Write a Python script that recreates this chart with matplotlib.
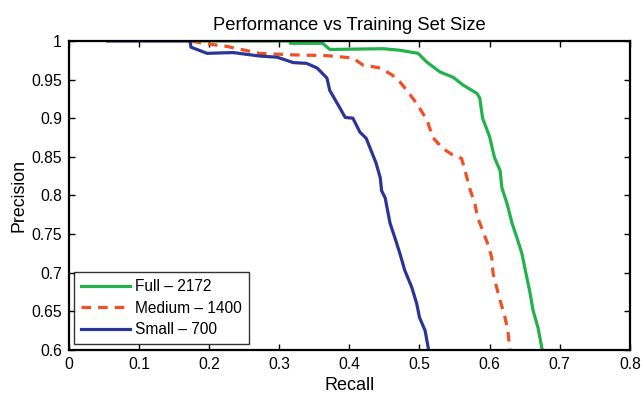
import matplotlib
matplotlib.use("Agg")
import matplotlib.pyplot as plt
from matplotlib.ticker import FixedLocator, FuncFormatter

plt.rcParams['font.family'] = ['Liberation Sans', 'DejaVu Sans']

# Full - 2172
full_recall = [0.17, 0.315, 0.316, 0.362, 0.372, 0.448, 0.472, 0.498, 0.51, 0.529, 0.548, 0.562,
               0.582, 0.586, 0.59, 0.600, 0.607, 0.615, 0.6175, 0.625, 0.632, 0.639, 0.646,
               0.653, 0.657, 0.662, 0.669, 0.675]
full_precision = [1.0, 1.0, 0.997, 0.997, 0.989, 0.990, 0.988, 0.984, 0.973, 0.960, 0.953, 0.943,
                  0.932, 0.926, 0.900, 0.876, 0.849, 0.832, 0.810, 0.789, 0.764, 0.745, 0.725,
                  0.694, 0.677, 0.651, 0.629, 0.600]

# Medium - 1400
med_recall = [0.175, 0.191, 0.225, 0.272, 0.32, 0.368, 0.405, 0.419, 0.444, 0.461, 0.472, 0.482,
              0.496, 0.511, 0.519, 0.533, 0.548, 0.560, 0.565, 0.572, 0.579, 0.583, 0.59,
              0.597, 0.603, 0.605, 0.610, 0.615, 0.622, 0.626, 0.629]
med_precision = [1.0, 0.997, 0.993, 0.984, 0.982, 0.981, 0.978, 0.969, 0.965, 0.956, 0.947, 0.936,
                 0.919, 0.897, 0.875, 0.861, 0.852, 0.848, 0.832, 0.808, 0.789, 0.771, 0.755,
                 0.738, 0.720, 0.699, 0.681, 0.664, 0.642, 0.625, 0.600]

# Small - 700
small_recall = [0.055, 0.173, 0.174, 0.197, 0.234, 0.272, 0.297, 0.32, 0.339, 0.354, 0.368, 0.372,
                0.386, 0.394, 0.405, 0.415, 0.424, 0.431, 0.438, 0.444, 0.446, 0.451, 0.458,
                0.465, 0.472, 0.479, 0.489, 0.496, 0.500, 0.508, 0.513]
small_precision = [1.0, 1.0, 0.992, 0.984, 0.985, 0.9805, 0.979, 0.972, 0.971, 0.965, 0.952, 0.936,
                   0.914, 0.901, 0.900, 0.882, 0.874, 0.858, 0.842, 0.823, 0.806, 0.797, 0.764,
                   0.745, 0.725, 0.703, 0.681, 0.660, 0.642, 0.625, 0.600]

labels = ["Full \u2013 2172", "Medium \u2013 1400", "Small \u2013 700"]
x_ticks = [0, 0.1, 0.2, 0.3, 0.4, 0.5, 0.6, 0.7, 0.8]
y_ticks = [0.6, 0.65, 0.7, 0.75, 0.8, 0.85, 0.9, 0.95, 1.0]

fig = plt.figure(figsize=(6.44, 3.94), dpi=100)
ax = fig.add_axes([0.107, 0.112, 0.871, 0.784])

ax.plot(full_recall, full_precision, color='#22b24c', lw=2.3, label=labels[0])
ax.plot(med_recall, med_precision, color='#f05023', lw=2.3, ls=(0, (3, 2.2)), label=labels[1])
ax.plot(small_recall, small_precision, color='#2b3596', lw=2.3, label=labels[2])

ax.set_xlim(0, 0.8)
ax.set_ylim(0.6, 1.0)
ax.xaxis.set_major_locator(FixedLocator(x_ticks))
ax.yaxis.set_major_locator(FixedLocator(y_ticks))
fmt = FuncFormatter(lambda v, p: ('%g' % round(v, 3)))
ax.xaxis.set_major_formatter(fmt)
ax.yaxis.set_major_formatter(fmt)
ax.tick_params(direction='in', length=4, width=1, top=True, right=True, labelsize=11.3,
               colors='black', pad=5)
for s in ax.spines.values():
    s.set_linewidth(1.6)

ax.set_xlabel('Recall', fontsize=13, labelpad=4)
ax.set_ylabel('Precision', fontsize=12.8, labelpad=3)
ax.set_title('Performance vs Training Set Size', fontsize=13.2, pad=8)

leg = ax.legend(loc='lower left', fontsize=11.2, frameon=True, fancybox=False,
                edgecolor='black', borderaxespad=0.35, handlelength=3.1, labelspacing=0.42,
                borderpad=0.45, handletextpad=0.35)
leg.get_frame().set_linewidth(1.0)

fig.savefig('out.png', dpi=100)
